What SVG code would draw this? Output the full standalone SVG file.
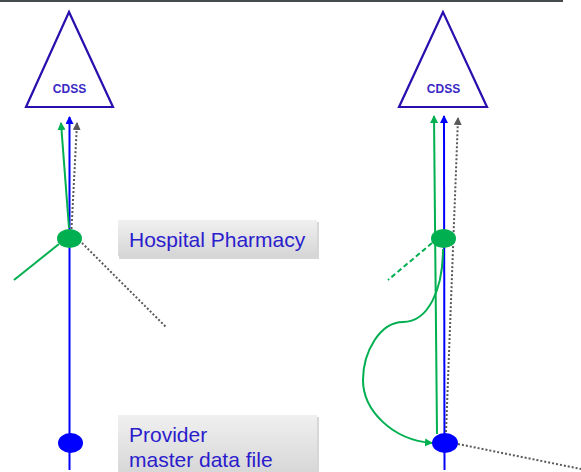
<svg xmlns="http://www.w3.org/2000/svg" width="581" height="472" viewBox="0 0 581 472">
<defs>
<style>
.tri{fill:none;stroke:#2a0fae;stroke-width:2.2;stroke-linejoin:miter}
.cdss{font-family:"Liberation Sans",Arial,sans-serif;font-weight:bold;font-size:12px;fill:#3a28c4;text-anchor:middle}
.lbl{font-family:"Liberation Sans",Arial,sans-serif;font-size:21px;fill:#2b1ccc}
.g{stroke:#00b050;stroke-width:2;fill:none}
.b{stroke:#0000ff;stroke-width:2;fill:none}
.d{stroke:#595959;stroke-width:2;fill:none;stroke-dasharray:2 2}
.gd{stroke:#00b050;stroke-width:2;fill:none;stroke-dasharray:5 3}
</style>
<marker id="ag" markerWidth="8" markerHeight="8" refX="7" refY="4" orient="auto" markerUnits="userSpaceOnUse"><path d="M0,0 L8,4 L0,8 Z" fill="#00b050"/></marker>
<marker id="ab" markerWidth="8" markerHeight="8" refX="7" refY="4" orient="auto" markerUnits="userSpaceOnUse"><path d="M0,0 L8,4 L0,8 Z" fill="#0000ff"/></marker>
<marker id="ad" markerWidth="8" markerHeight="8" refX="7" refY="4" orient="auto" markerUnits="userSpaceOnUse"><path d="M0,0 L8,4 L0,8 Z" fill="#595959"/></marker>
<linearGradient id="box" x1="0" y1="0" x2="0" y2="1"><stop offset="0" stop-color="#f0f0f0"/><stop offset="1" stop-color="#d6d6d6"/></linearGradient>
</defs>
<line x1="0" y1="1" x2="563" y2="1" stroke="#454a4d" stroke-width="2"/>
<g id="connectors">
<line class="b" x1="69.5" y1="470" x2="69.5" y2="117" marker-end="url(#ab)"/>
<line class="g" x1="69" y1="228" x2="61" y2="123" marker-end="url(#ag)"/>
<line class="d" x1="71.5" y1="229" x2="77" y2="123" marker-end="url(#ad)"/>
<line class="g" x1="59" y1="244" x2="14" y2="280"/>
<line class="d" x1="82" y1="243" x2="166" y2="327"/>
<line class="b" x1="444.5" y1="470" x2="444" y2="116" marker-end="url(#ab)"/>
<line class="g" x1="437" y1="434" x2="434" y2="116" marker-end="url(#ag)"/>
<line class="d" x1="446" y1="432" x2="458" y2="118" marker-end="url(#ad)"/>
<line class="gd" x1="432" y1="243" x2="388" y2="280"/>
<path class="g" d="M443,249 C443,290 428,322 403,322 C380,322 363,352 363,380 C363,410 392,440 432,443" marker-end="url(#ag)"/>
<line class="d" x1="458" y1="444" x2="581" y2="469"/>
</g>
<g id="cdss-left">
<polygon class="tri" points="69,12 26,107 113,107"/>
<text class="cdss" x="69.5" y="93">CDSS</text>
</g>
<g id="cdss-right">
<polygon class="tri" points="443,12 399,107 487,107"/>
<text class="cdss" x="443.5" y="93">CDSS</text>
</g>
<g id="node-pharmacy-left"><ellipse cx="69.5" cy="238.5" rx="12.5" ry="9.5" fill="#00b050"/></g>
<g id="node-provider-left"><ellipse cx="70.5" cy="443" rx="12.5" ry="10" fill="#0000ff"/></g>
<g id="node-pharmacy-right"><ellipse cx="443.5" cy="238.5" rx="12.5" ry="9.5" fill="#00b050"/></g>
<g id="node-provider-right"><ellipse cx="445" cy="443" rx="13" ry="10" fill="#0000ff"/></g>
<g id="label-pharmacy">
<rect x="119" y="222" width="200" height="37" fill="#bdbdbd" opacity="0.6"/>
<rect x="118" y="220" width="199" height="36" fill="url(#box)"/>
<text class="lbl" x="129" y="247">Hospital Pharmacy</text>
</g>
<g id="label-provider">
<rect x="119" y="417" width="200" height="60" fill="#bdbdbd" opacity="0.6"/>
<rect x="118" y="415" width="199" height="60" fill="url(#box)"/>
<text class="lbl" x="129" y="442">Provider</text>
<text class="lbl" x="129" y="467">master data file</text>
</g>
</svg>
